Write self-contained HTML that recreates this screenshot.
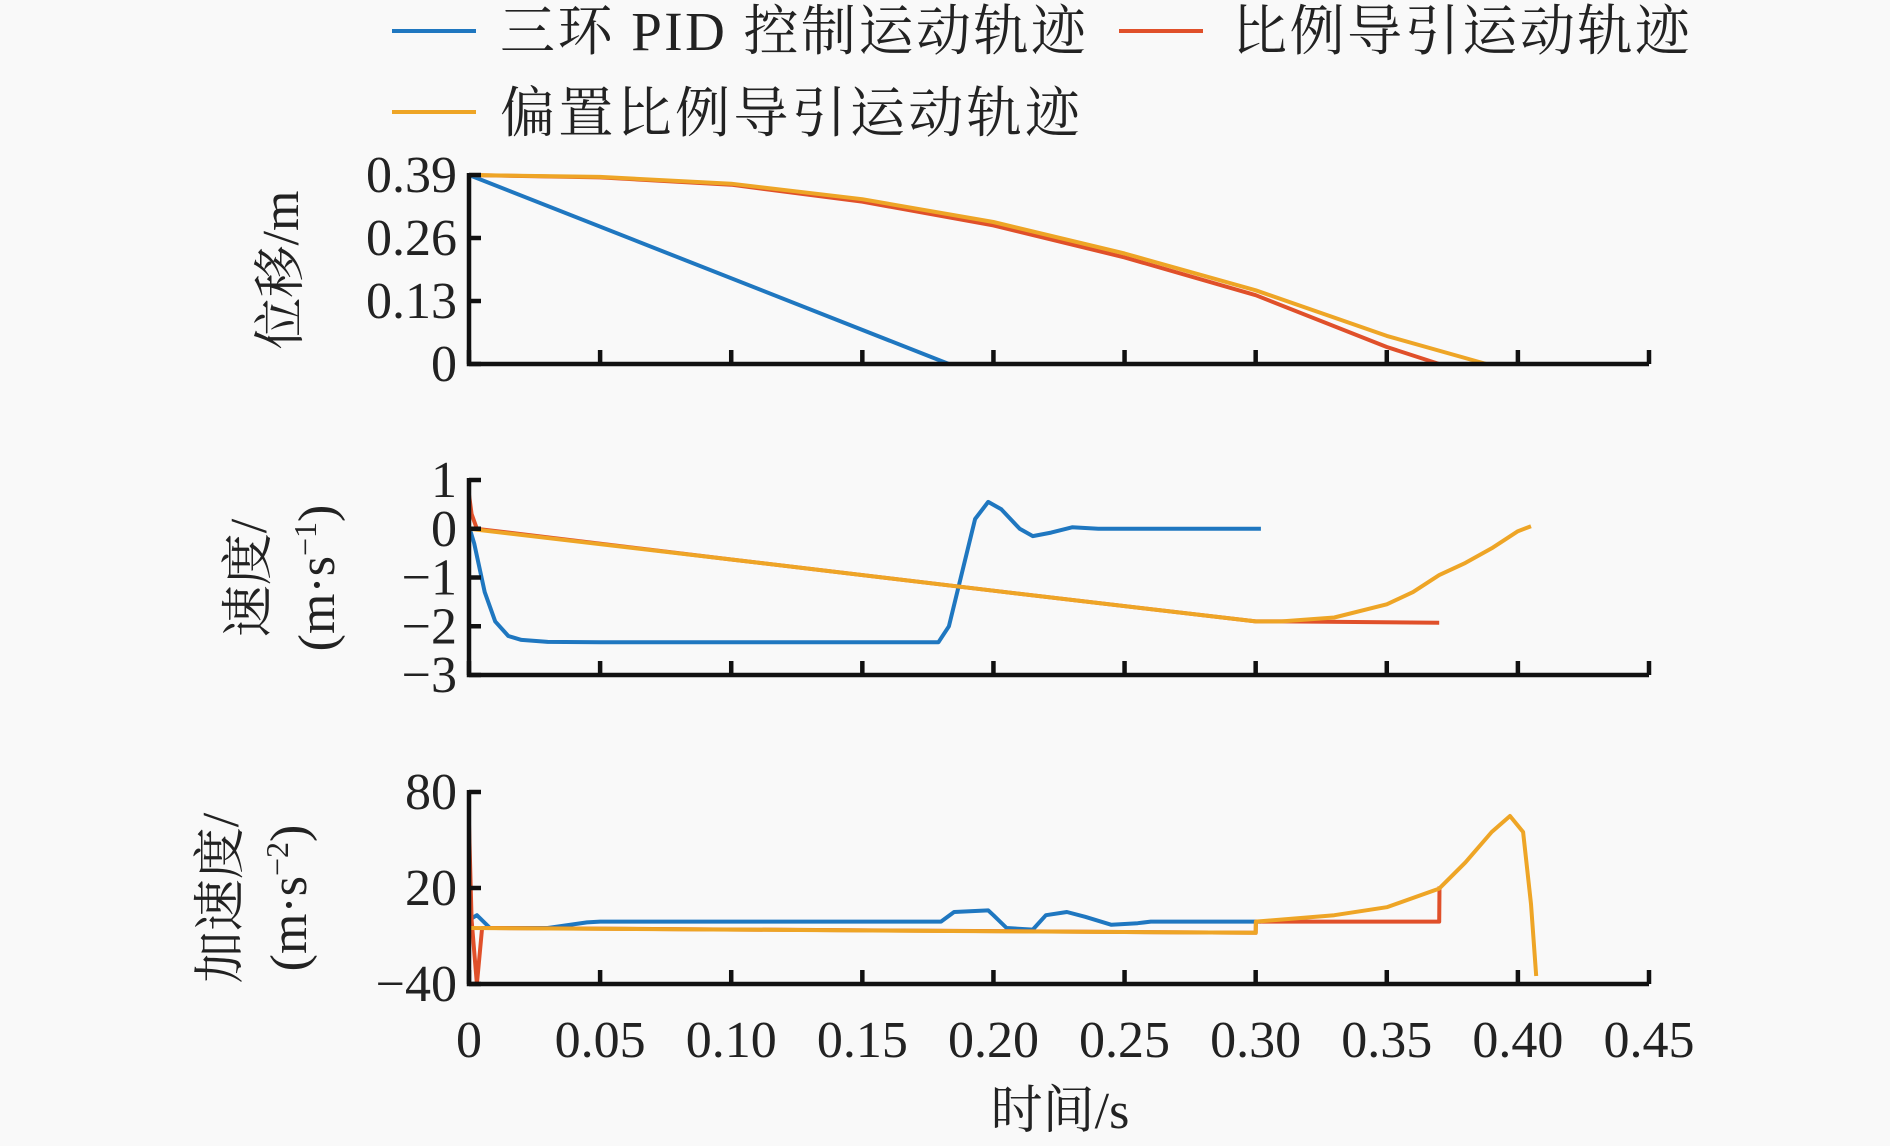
<!DOCTYPE html>
<html><head><meta charset="utf-8"><style>
body{margin:0;background:#f9f9f9;}
svg{display:block;font-family:"Liberation Serif","Noto Serif CJK SC",serif;}
</style></head><body>
<svg id="chart" width="1890" height="1146" viewBox="0 0 1890 1146">
<rect width="1890" height="1146" fill="#f9f9f9"/>
<g id="legend">
 <g><line x1="392" y1="31" x2="476" y2="31" stroke="#1f77c0" stroke-width="4"/><text x="500" y="50" font-size="55" textLength="586" fill="#222">三环 PID 控制运动轨迹</text></g>
 <g><line x1="1119" y1="31" x2="1203" y2="31" stroke="#e0502a" stroke-width="4"/><text x="1232" y="50" font-size="55" textLength="458" fill="#222">比例导引运动轨迹</text></g>
 <g><line x1="392" y1="112" x2="476" y2="112" stroke="#eea526" stroke-width="4"/><text x="500" y="132" font-size="55" textLength="580" fill="#222">偏置比例导引运动轨迹</text></g>
</g>
<g id="plots"></g>
<text x="1060" y="1128" font-size="52" text-anchor="middle" fill="#222">时间/s</text>
</svg>
<script>
const xTicks=[0,0.05,0.10,0.15,0.20,0.25,0.30,0.35,0.40,0.45];
const xTickLabels=["0","0.05","0.10","0.15","0.20","0.25","0.30","0.35","0.40","0.45"];
// Panel 1: displacement
const posTicks=[0,0.13,0.26,0.39];
const posBlueT=[0,0.183], posBlueV=[0.39,0];
const posRedT=[0,0.05,0.1,0.15,0.2,0.25,0.3,0.35,0.37], posRedV=[0.39,0.385,0.37,0.335,0.286,0.22,0.142,0.035,0];
const posOrgT=[0,0.05,0.1,0.15,0.2,0.25,0.3,0.35,0.388], posOrgV=[0.39,0.386,0.372,0.34,0.293,0.228,0.152,0.058,0];
// Panel 2: velocity
const velTicks=[-3,-2,-1,0,1];
const velBlueT=[0,0.002,0.006,0.01,0.015,0.02,0.03,0.05,0.179,0.183,0.188,0.193,0.198,0.203,0.21,0.215,0.222,0.23,0.24,0.302];
const velBlueV=[0.05,-0.3,-1.3,-1.9,-2.2,-2.28,-2.32,-2.33,-2.33,-2.0,-0.9,0.2,0.55,0.4,0.0,-0.15,-0.08,0.03,0.0,0.0];
const velRedT=[0,0.001,0.003,0.1,0.2,0.3,0.31,0.37], velRedV=[0.7,0.3,0,-0.63,-1.27,-1.9,-1.9,-1.93];
const velOrgT=[0,0.1,0.2,0.3,0.31,0.33,0.35,0.36,0.37,0.38,0.39,0.4,0.405], velOrgV=[0,-0.63,-1.27,-1.9,-1.9,-1.82,-1.55,-1.3,-0.95,-0.7,-0.4,-0.05,0.05];
// Panel 3: acceleration
const accTicks=[-40,20,80];
const accBlueT=[0,0.003,0.008,0.03,0.045,0.05,0.18,0.185,0.198,0.2,0.205,0.215,0.22,0.228,0.235,0.245,0.255,0.26,0.302];
const accBlueV=[0,3,-5,-5,-1.5,-1,-1,5,6,3,-5,-6,3,5,2,-3,-2,-1,-1];
const accRedT=[0,0.001,0.003,0.005,0.01,0.3,0.3001,0.37,0.3701], accRedV=[60,0,-40,-5,-5,-8,-1,-1,21];
const accOrgT=[0,0.1,0.2,0.3,0.3001,0.33,0.35,0.37,0.38,0.39,0.397,0.402,0.405,0.407], accOrgV=[-5,-6,-7,-8,-1,3,8,19.6,36,55,65,55,10,-35];

const X0=469,X1=1649;
const xs=t=>X0+(t-0)/(0.45)*(X1-X0);
const NS="http://www.w3.org/2000/svg";
const plots=document.getElementById('plots');
function mk(tag,attrs,parent){const e=document.createElementNS(NS,tag);for(const k in attrs)e.setAttribute(k,attrs[k]);(parent||plots).appendChild(e);return e;}
function panel(name,ymin,ymax,yTop,yBot,ticks,series,labelLines,labelX,labelY){
  const ys=v=>yBot-(v-ymin)/(ymax-ymin)*(yBot-yTop);
  const g=mk('g',{});
  
  
  series.forEach(s=>{
    const p=mk('polyline',{points:s.t.map((t,i)=>xs(t).toFixed(1)+','+ys(s.v[i]).toFixed(1)).join(' '),fill:'none',stroke:s.c,'stroke-width':4,'stroke-linejoin':'round'},g);
    
    
  });
  const ax=mk('path',{d:`M${X0},${yTop-2}V${yBot}H${X1}`,fill:'none',stroke:'#111','stroke-width':4.5},g);
  
  
  xTicks.forEach(t=>{
    const l=mk('line',{x1:xs(t),x2:xs(t),y1:yBot,y2:yBot-14,stroke:'#111','stroke-width':4.5},g);
    
    
  });
  ticks.forEach(v=>{
    const l=mk('line',{x1:X0,x2:X0+12,y1:ys(v),y2:ys(v),stroke:'#111','stroke-width':4.5},g);
    
    
    const tx=mk('text',{x:X0-12,y:ys(v)+17,'font-size':52,'text-anchor':'end',fill:'#222'},g);
    tx.textContent=String(v).replace('-','−');
    
    
  });
  const lab=mk('text',{transform:`translate(${labelX},${labelY}) rotate(-90)`,'font-size':52,'text-anchor':'middle',fill:'#222'},g);
  
  
  labelLines.forEach((s,i)=>{const ts=mk('tspan',{x:0,dy:i?68:0},lab);ts.innerHTML=s;});
}
panel('position',0,0.39,175,364,posTicks,[
 {n:'pid',t:posBlueT,v:posBlueV,c:'#1f77c0'},{n:'pn',t:posRedT,v:posRedV,c:'#e0502a'},{n:'bpn',t:posOrgT,v:posOrgV,c:'#eea526'}],
 ['位移/m'],298,270);
panel('velocity',-3,1,480,675,velTicks,[
 {n:'pid',t:velBlueT,v:velBlueV,c:'#1f77c0'},{n:'pn',t:velRedT,v:velRedV,c:'#e0502a'},{n:'bpn',t:velOrgT,v:velOrgV,c:'#eea526'}],
 ['速度/','(m·s<tspan dy="-18" font-size="32">−1</tspan><tspan dy="18">)</tspan>'],266,578);
panel('acceleration',-40,80,792,984,accTicks,[
 {n:'pid',t:accBlueT,v:accBlueV,c:'#1f77c0'},{n:'pn',t:accRedT,v:accRedV,c:'#e0502a'},{n:'bpn',t:accOrgT,v:accOrgV,c:'#eea526'}],
 ['加速度/','(m·s<tspan dy="-18" font-size="32">−2</tspan><tspan dy="18">)</tspan>'],238,898);
const xl=document.createElementNS(NS,'g');


plots.appendChild(xl);
xTicks.forEach((t,i)=>{const tx=mk('text',{x:xs(t),y:1057,'font-size':52,'text-anchor':'middle',fill:'#222'},xl);tx.textContent=xTickLabels[i];

});
</script>
</body></html>
